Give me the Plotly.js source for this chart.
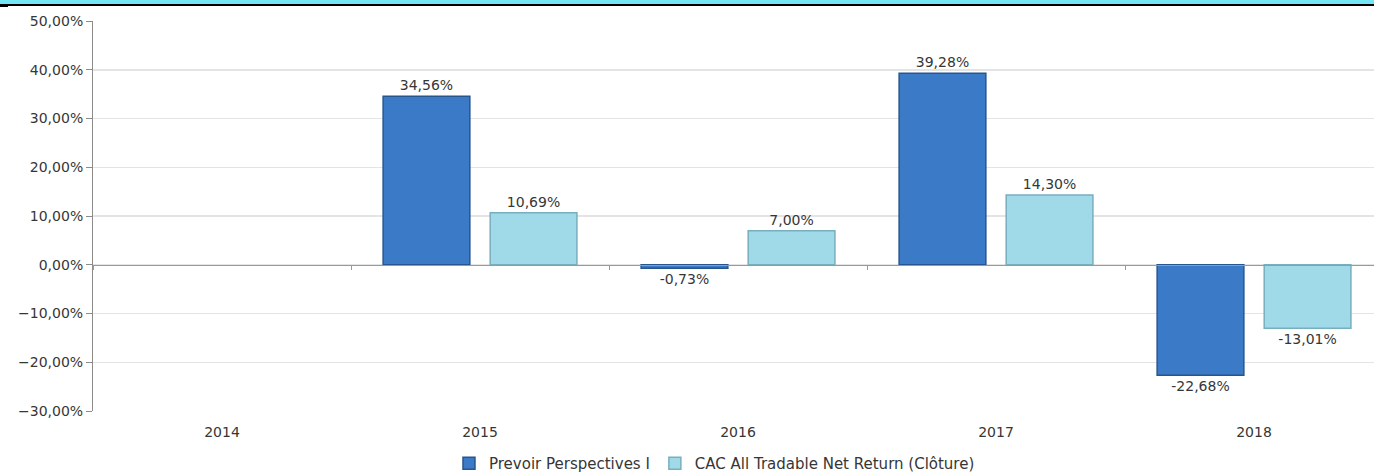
<!DOCTYPE html>
<html>
<head>
<meta charset="utf-8">
<script src="https://cdn.plot.ly/plotly-3.0.1.min.js"></script>
<style>
  html, body { margin: 0; padding: 0; background: #fff; }
  #wrap { position: relative; width: 1374px; height: 474px; overflow: hidden; }
  #chart { width: 1374px; height: 474px; }
  #band { position: absolute; left: 0; top: 0; width: 1374px; height: 4px; background: #74E5F5; border-bottom: 2px solid #000; }
  #corner { position: absolute; left: 0; top: 5px; width: 8px; height: 2px; background: #000; }
</style>
</head>
<body>
<div id="wrap">
  <div id="chart"></div>
  <div id="band"></div>
  <div id="corner"></div>
</div>
<script>
const years = ["2014", "2015", "2016", "2017", "2018"];
const seriesNames = ["Prevoir Perspectives I", "CAC All Tradable Net Return (Clôture)"];
const fundValues = [null, 34.56, -0.73, 39.28, -22.68];
const indexValues = [null, 10.69, 7.00, 14.30, -13.01];

function fmt(v) { return v === null ? "" : v.toFixed(2).replace(".", ",") + "%"; }

const FONT = "DejaVu Sans, Verdana, sans-serif";
const labelFont = { family: FONT, size: 14, color: "#363636" };

const traces = [
  {
    type: "bar", name: seriesNames[0], x: years, y: fundValues,
    text: fundValues.map(fmt), textposition: "outside", cliponaxis: false,
    textfont: labelFont,
    marker: { color: "#3B7AC7", line: { color: "#28558E", width: 1.5 } },
    hoverinfo: "skip"
  },
  {
    type: "bar", name: seriesNames[1], x: years, y: indexValues,
    text: indexValues.map(fmt), textposition: "outside", cliponaxis: false,
    textfont: labelFont,
    marker: { color: "#A0D9E7", line: { color: "#78AFBE", width: 1.5 } },
    hoverinfo: "skip"
  },
  {
    type: "scatter", mode: "lines", x: years, y: years.map(() => null),
    xaxis: "x2", yaxis: "y", showlegend: false, hoverinfo: "skip"
  }
];

const xRange = [-0.5, 4.465];

const layout = {
  width: 1374, height: 474,
  margin: { l: 93, r: 0, t: 21, b: 63 },
  paper_bgcolor: "#fff", plot_bgcolor: "#fff",
  separators: ", ",
  barmode: "group", bargap: 0.17, bargroupgap: 0.19,
  showlegend: true,
  legend: {
    orientation: "h", x: 0.52, xref: "container", xanchor: "center",
    y: 0.022, yref: "container", yanchor: "middle",
    font: { family: FONT, size: 15, color: "#363636" },
    itemwidth: 30, tracegroupgap: 0
  },
  xaxis: {
    type: "category", range: xRange, showline: false, showgrid: false, zeroline: false,
    ticks: "", ticklabelstandoff: 11, automargin: false,
    tickfont: { family: FONT, size: 14, color: "#363636" },
    fixedrange: true
  },
  xaxis2: {
    type: "category", overlaying: "x", anchor: "free", position: 0.375, range: xRange,
    showline: true, linecolor: "#9a9a9a", linewidth: 1,
    ticks: "outside", tickson: "boundaries", ticklen: 4, tickcolor: "#9a9a9a",
    showticklabels: false, showgrid: false, zeroline: false, automargin: false
  },
  yaxis: {
    range: [-30, 50], dtick: 10, tick0: 0,
    tickformat: ".2f", ticksuffix: "%",
    showline: true, linecolor: "#8c8c8c", linewidth: 1,
    ticks: "outside", ticklen: 6, tickcolor: "#8c8c8c",
    showgrid: true, gridcolor: "#e4e4e4", gridwidth: 1.5,
    zeroline: false, automargin: false,
    tickfont: { family: FONT, size: 14, color: "#363636" },
    fixedrange: true
  }
};

Plotly.newPlot("chart", traces, layout, { displayModeBar: false, staticPlot: true });
</script>
</body>
</html>
